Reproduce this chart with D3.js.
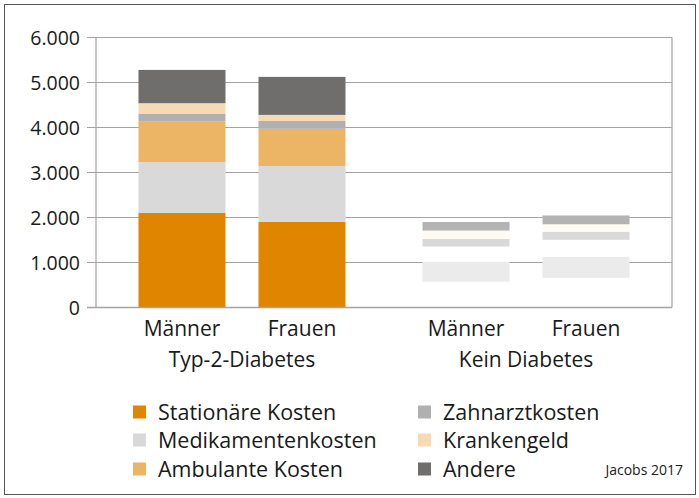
<!DOCTYPE html>
<html>
<head>
<meta charset="utf-8">
<script src="https://cdn.jsdelivr.net/npm/d3@7"></script>
<style>
  body { margin: 0; background: #fff; }
  text { font-family: "Open Sans", "Noto Sans", sans-serif; fill: #1a1a1a; }
</style>
</head>
<body>
<div id="chart"></div>
<script>
// categories
const groups = ['Typ-2-Diabetes', 'Kein Diabetes'];
const sexes = ['Männer', 'Frauen'];
const costTypes = ['Stationäre Kosten', 'Medikamentenkosten', 'Ambulante Kosten',
                   'Zahnarztkosten', 'Krankengeld', 'Andere'];

// values per bar, in the order of costTypes (bottom to top)
const typ2Maenner = [2100, 1130, 910, 160, 240, 740];
const typ2Frauen  = [1900, 1245, 825, 175, 135, 845];
const keinMaenner = [575, 445, 335, 170, 185, 190];
const keinFrauen  = [660, 470, 375, 175, 170, 195];

const yTicks = [0, 1000, 2000, 3000, 4000, 5000, 6000];

const colors      = ['#e08500', '#d9d9d9', '#ecb465', '#b0b0b0', '#f6dab4', '#6f6e6c'];
const fadedColors = ['#ffffff', '#ebebeb', '#ffffff', '#d9d9d9', '#fefaf4', '#b3b3b3'];

const bars = [
    { group: groups[0], sex: sexes[0], values: typ2Maenner, fill: colors },
    { group: groups[0], sex: sexes[1], values: typ2Frauen,  fill: colors },
    { group: groups[1], sex: sexes[0], values: keinMaenner, fill: fadedColors },
    { group: groups[1], sex: sexes[1], values: keinFrauen,  fill: fadedColors },
];

const width = 699, height = 498;
const plot = { left: 96, right: 672, top: 37.5, bottom: 307.5 };

const de = d3.formatLocale({ decimal: ',', thousands: '.', grouping: [3], currency: ['', ' €'] });
const fmt = de.format(',');

const svg = d3.select('#chart').append('svg')
    .attr('width', width)
    .attr('height', height);

svg.append('rect')
    .attr('x', 4.5).attr('y', 4.5)
    .attr('width', width - 8).attr('height', height - 8)
    .attr('fill', 'none')
    .attr('stroke', '#555')
    .attr('stroke-width', 1);

const y = d3.scaleLinear()
    .domain([0, 6000])
    .range([plot.bottom, plot.top]);

const xGroup = d3.scalePoint()
    .domain(groups)
    .range([plot.left, plot.right])
    .padding(0.514);

const xSex = d3.scaleBand()
    .domain(sexes)
    .range([-120, 120])
    .paddingInner(0.275)
    .paddingOuter(0.1375);

// grid lines (the zero line goes on top of the bars further down)
svg.append('g')
    .selectAll('line')
    .data(yTicks.filter(d => d > 0))
    .join('line')
    .attr('x1', plot.left - 9)
    .attr('x2', plot.right)
    .attr('y1', d => y(d))
    .attr('y2', d => y(d))
    .attr('stroke', '#a3a3a3')
    .attr('stroke-width', 1.2);

svg.append('line')
    .attr('x1', plot.left).attr('x2', plot.left)
    .attr('y1', plot.top).attr('y2', plot.bottom)
    .attr('stroke', '#a3a3a3').attr('stroke-width', 1.2);

svg.append('line')
    .attr('x1', plot.right).attr('x2', plot.right)
    .attr('y1', plot.top).attr('y2', plot.bottom)
    .attr('stroke', '#a3a3a3').attr('stroke-width', 1.2);

svg.append('g')
    .selectAll('text')
    .data(yTicks)
    .join('text')
    .attr('x', 80)
    .attr('y', d => y(d))
    .attr('dy', '0.36em')
    .attr('text-anchor', 'end')
    .style('font-size', '19.5px')
    .text(d => fmt(d));

// stacked bars
const barG = svg.append('g');
bars.forEach(b => {
    const x0 = xGroup(b.group) + xSex(b.sex);
    const stacked = d3.cumsum(b.values);
    barG.append('g')
        .selectAll('rect')
        .data(b.values)
        .join('rect')
        .attr('x', x0)
        .attr('width', xSex.bandwidth())
        .attr('y', (d, i) => y(stacked[i]))
        .attr('height', (d, i) => y(stacked[i] - d) - y(stacked[i]))
        .attr('fill', (d, i) => b.fill[i]);

    svg.append('text')
        .attr('x', x0 + xSex.bandwidth() / 2)
        .attr('y', 336)
        .attr('text-anchor', 'middle')
        .style('font-size', '21px')
        .text(b.sex);
});

svg.append('line')
    .attr('x1', plot.left - 9).attr('x2', plot.right)
    .attr('y1', y(0)).attr('y2', y(0))
    .attr('stroke', '#a3a3a3').attr('stroke-width', 1.6);

svg.append('g')
    .selectAll('text')
    .data(groups)
    .join('text')
    .attr('x', d => xGroup(d))
    .attr('y', 367)
    .attr('text-anchor', 'middle')
    .style('font-size', '21px')
    .text(d => d);

// legend
const legendCols = [133, 418];
const legendRows = [412, 440, 469];
const legend = svg.append('g')
    .selectAll('g')
    .data(costTypes)
    .join('g')
    .attr('transform', (d, i) => `translate(${legendCols[Math.floor(i / 3)]}, ${legendRows[i % 3]})`);

legend.append('rect')
    .attr('x', 0).attr('y', -6.5)
    .attr('width', 13).attr('height', 13)
    .attr('fill', (d, i) => colors[i]);

legend.append('text')
    .attr('x', 25)
    .attr('y', 0)
    .attr('dy', '0.36em')
    .style('font-size', '21.5px')
    .text(d => d);

svg.append('text')
    .attr('x', 683)
    .attr('y', 475)
    .attr('text-anchor', 'end')
    .style('font-size', '14px')
    .text('Jacobs 2017');
</script>
</body>
</html>
